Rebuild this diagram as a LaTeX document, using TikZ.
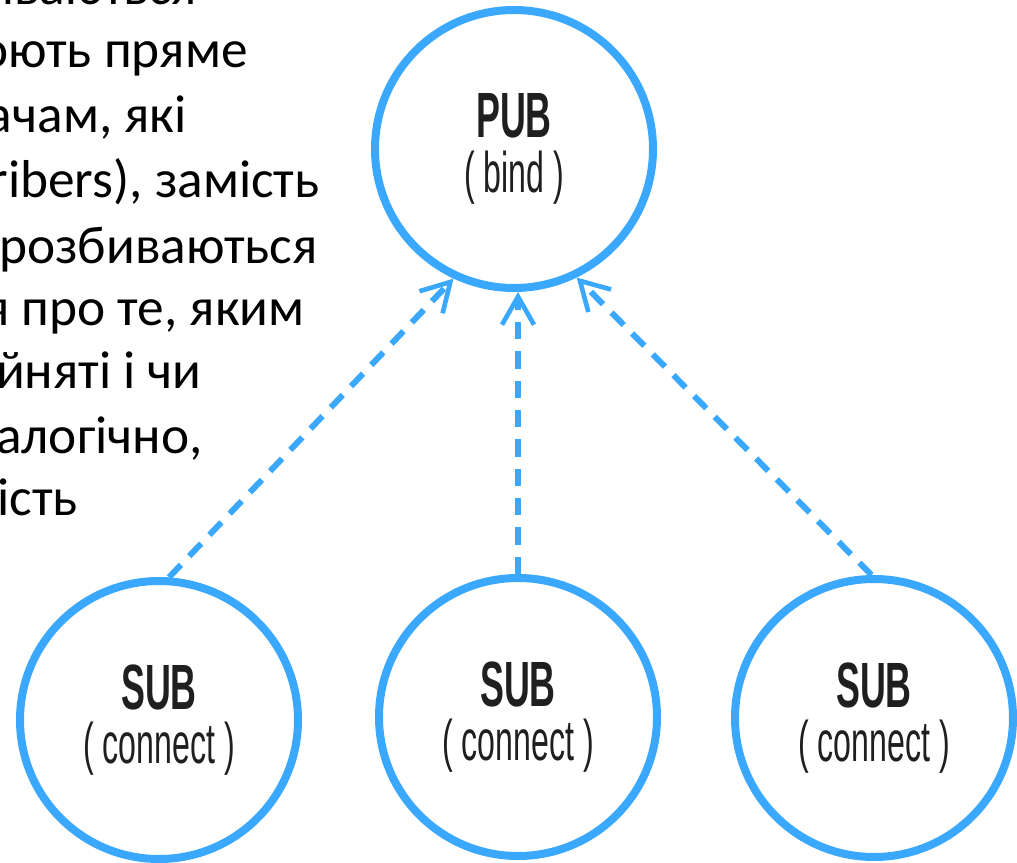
\documentclass[tikz,border=0pt]{standalone}
\usepackage{fontspec}
\setmainfont{Carlito}
\newfontfamily\sockfont[FakeStretch=0.56]{Liberation Sans}
\usepackage{xcolor}
\usetikzlibrary{arrows.meta}

\definecolor{sockblue}{RGB}{58,168,255}

\tikzset{
  sock/.style={circle, draw=sockblue, line width=6pt, minimum size=208.5pt, inner sep=0pt,
    align=center, text=black!88, font=\sockfont\fontsize{43}{41}\selectfont},
  link/.style={draw=sockblue, line width=4.5pt, dash pattern=on 13pt off 9pt,
    -{Straight Barb[length=21pt,width=24pt,line width=3.5pt]}},
  txt/.style={inner sep=0pt, anchor=base east, font=\fontsize{40}{48}\selectfont},
}

\begin{document}
\begin{tikzpicture}[x=0.75pt,y=0.75pt,yscale=-1,xscale=1]
\useasboundingbox (0,0) rectangle (1017,863);
\clip (0,0) rectangle (1017,863);

% Text Node
\node[txt] (t1) at (197,5) {иваються};
% Text Node
\node[txt] (t2) at (248,68) {оють пряме};
% Text Node
\node[txt] (t3) at (187,133) {ачам, які};
% Text Node
\node[txt] (t4) at (320,198) {ribers), замість};
% Text Node
\node[txt] (t5) at (318,263) {розбиваються};
% Text Node
\node[txt] (t6) at (305,325) {я про те, яким};
% Text Node
\node[txt] (t7) at (202,388) {йняті і чи};
% Text Node
\node[txt] (t8) at (203,453) {алогічно,};
% Text Node
\node[txt] (t9) at (78,515) {ість};

%Shape: Circle [pub]
\node[sock] (pub) at (514,149) {{\bfseries\fontsize{48}{41}\selectfont PUB}\\( bind )};
%Shape: Circle [sub]
\node[sock] (subA) at (159,720) {{\bfseries\fontsize{48}{41}\selectfont SUB}\\( connect )};
%Shape: Circle [sub]
\node[sock] (subB) at (518,717) {{\bfseries\fontsize{48}{41}\selectfont SUB}\\( connect )};
%Shape: Circle [sub]
\node[sock] (subC) at (874,718) {{\bfseries\fontsize{48}{41}\selectfont SUB}\\( connect )};

%Dashed Lines
\draw[link] (subA.86) -- (pub.245);
\draw[link] (subB.north) -- (subB.north |- pub.south);
\draw[link] (subC.91) -- (pub.296);

\end{tikzpicture}
\end{document}
